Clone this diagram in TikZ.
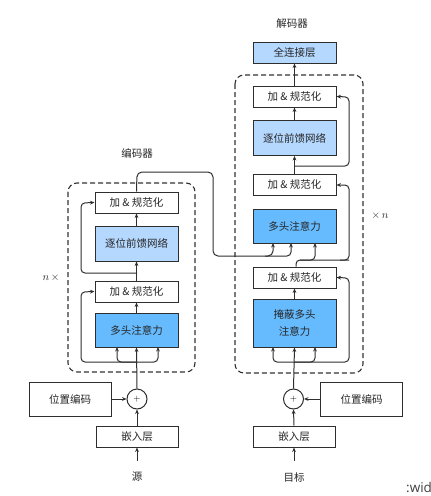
\documentclass[tikz,border=0pt]{standalone}
\usepackage{fontspec}
\setmainfont{Noto Sans CJK SC}
\newfontfamily\wfont{Open Sans}
\usetikzlibrary{arrows.meta}
\definecolor{attblue}{HTML}{66BBFF}
\definecolor{ffnblue}{HTML}{B5D8FF}
\definecolor{linec}{HTML}{2E2E2E}
\tikzset{
  blk/.style={draw=linec,line width=1pt,minimum width=83pt,inner sep=0pt,font=\fontsize{10.5}{12}\selectfont,text=black!85},
  addbox/.style={blk,fill=white,minimum height=21pt},
  ffnbox/.style={blk,fill=ffnblue,minimum height=35pt},
  attbox/.style={blk,fill=attblue,minimum height=34pt},
  arr/.style={draw=linec,line width=1pt,-{Stealth[length=4.5pt,width=3.8pt]}},
  ln/.style={draw=linec,line width=1pt},
  dbox/.style={draw=black!80,line width=1.1pt,dash pattern=on 5pt off 3pt,rounded corners=9pt},
  lbl/.style={font=\fontsize{10.5}{12}\selectfont,text=black!85,inner sep=0pt},
  plusc/.style={draw=linec,line width=1pt,circle,fill=white,minimum size=20pt,inner sep=0pt,font=\fontsize{9}{10}\selectfont}
}
\begin{document}
\begin{tikzpicture}[x=1pt,y=-1pt]
\useasboundingbox (0,0) rectangle (431,496);
% dashed boxes
\draw[dbox] (68,183) rectangle (195,372);
\draw[dbox] (235,75) rectangle (363,373);
% labels
\node[lbl] (enclbl) at (137,153) {编码器};
\node[lbl] (declbl) at (292,24) {解码器};
\node[lbl] (nx) at (51,278) {$n\,\times$};
\node[lbl] (xn) at (380,216) {$\times\,n$};
% encoder blocks
\node[addbox] (eadd2) at (136.5,202.5) {加 \& 规范化};
\node[ffnbox] (effn) at (136.5,243.5) {逐位前馈网络};
\node[addbox] (eadd1) at (136.5,291.5) {加 \& 规范化};
\node[attbox] (eatt) at (136.5,330) {多头注意力};
\node[plusc] (ecirc) at (137,399) {$+$};
\node[blk,fill=white,minimum width=82pt,minimum height=34pt] (epos) at (70,399) {位置编码};
\node[addbox,minimum width=82pt] (eemb) at (137,436.5) {嵌入层};
\node[lbl] (src) at (137,477) {源};
% decoder blocks
\node[blk,fill=ffnblue,minimum height=21pt] (fc) at (294.5,52.5) {全连接层};
\node[addbox] (dadd3) at (294.5,96.5) {加 \& 规范化};
\node[ffnbox] (dffn) at (294.5,138) {逐位前馈网络};
\node[addbox] (dadd2) at (294.5,185) {加 \& 规范化};
\node[attbox] (datt2) at (294.5,226) {多头注意力};
\node[addbox] (dadd1) at (294.5,277.5) {加 \& 规范化};
\node[attbox,minimum height=48pt,align=center,font=\fontsize{10.5}{17}\selectfont] (datt1) at (294.5,323) {掩蔽多头\\注意力};
\node[plusc] (dcirc) at (293.5,399) {$+$};
\node[blk,fill=white,minimum width=82pt,minimum height=34pt] (dpos) at (361.5,399) {位置编码};
\node[addbox,minimum width=82pt] (demb) at (294,436.5) {嵌入层};
\node[lbl] (tgt) at (294,477) {目标};
% encoder connectors
\coordinate (srctop) at (137,461);
\draw[arr] (srctop) -- (eemb.south);
\draw[arr] (eemb.north) -- (ecirc.south);
\draw[arr] (epos.east) -- (ecirc.west);
\draw[arr] (ecirc.north) -- (eatt.south);
\coordinate (ebr) at (137,362);
\draw[arr,rounded corners=4pt] (ebr) -| (117,347);
\draw[arr,rounded corners=4pt] (ebr) -| (158,347);
\draw[arr,rounded corners=4pt] (ebr) -| (81,292) -- (eadd1.west);
\draw[arr] (eatt.north) -- (eadd1.south);
\draw[arr] (eadd1.north) -- (effn.south);
\coordinate (ebr2) at (137,273);
\draw[arr,rounded corners=4pt] (ebr2) -| (81,203) -- (eadd2.west);
\draw[arr] (effn.north) -- (eadd2.south);
% encoder output to decoder
\draw[arr,rounded corners=5pt] (eadd2.north) -- (137,172) -- (213,172) -- (213,256) -- (273,256) -- (273,243);
\coordinate (eout) at (265,256);
\draw[arr,rounded corners=4pt] (eout) -- (291,256) -- (291,243);
% decoder connectors
\coordinate (tgttop) at (294,461);
\draw[arr] (tgttop) -- (demb.south);
\draw[arr] (demb.north) -- (dcirc.south);
\draw[arr] (dpos.west) -- (dcirc.east);
\draw[arr] (dcirc.north) -- (datt1.south);
\coordinate (dbr) at (294,362);
\draw[arr,rounded corners=4pt] (dbr) -| (273,347);
\draw[arr,rounded corners=4pt] (dbr) -| (315,347);
\draw[arr,rounded corners=4pt] (dbr) -| (349,278) -- (dadd1.west -| datt1.east);
\draw[arr] (datt1.north) -- (dadd1.south);
\coordinate (dbr2) at (296,260);
\draw[ln,rounded corners=4pt] (dadd1.north -| dbr2) -- (296,260) -- (349,260);
\draw[arr,rounded corners=4pt] (300,260) -| (315,243);
\draw[arr,rounded corners=4pt] (340,260) -| (349,185) -- (dadd2.east);
\draw[arr] (dadd2.north) -- (dffn.south);
\coordinate (dbr3) at (294,166);
\draw[arr,rounded corners=4pt] (dbr3) -| (349,97) -- (dadd3.east);
\draw[arr] (dffn.north) -- (dadd3.south);
\draw[arr] (dadd3.north) -- (fc.south);
% stray text (cut off at the right edge, as in the reference)
\begin{scope}
\clip (0,0) rectangle (431,496);
\node[anchor=base west,inner sep=0pt,font=\wfont\fontsize{13.5}{15}\selectfont,text=black!75] (wid) at (406,492) {:width};
\end{scope}
\end{tikzpicture}
\end{document}
